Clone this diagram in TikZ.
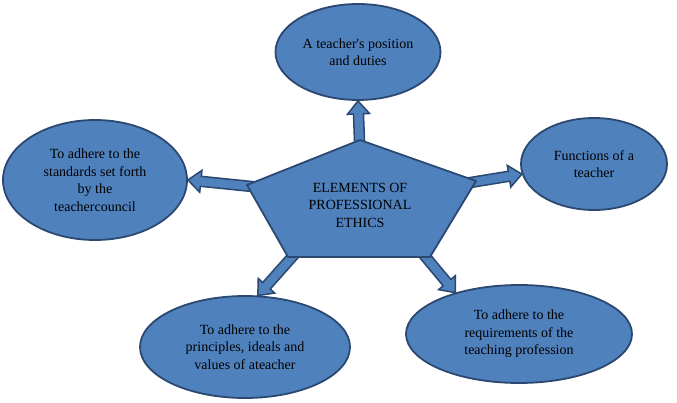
\documentclass[tikz,border=0pt]{standalone}
\usepackage{fontspec}
\setmainfont{Liberation Serif}
\usetikzlibrary{shapes.geometric,calc}
\definecolor{boxblue}{HTML}{4F81BD}
\definecolor{boxline}{HTML}{2A4870}
\tikzset{
  elembox/.style={ellipse, draw=boxline, fill=boxblue, line width=1.8pt,
    inner sep=0pt, align=center, font=\fontsize{14}{17.5}\selectfont},
  shapebox/.style={draw=boxline, fill=boxblue, line width=1.8pt, line join=round},
  arrowbox/.style={draw=boxline, fill=boxblue, line width=1.5pt, line join=miter}
}
% block arrow from #1 to #2
\newcommand{\blockarrow}[2]{%
  \coordinate (ah) at ($(#2)!13pt!(#1)$);
  \draw[arrowbox] ($(#1)!5pt!90:(#2)$) -- ($(ah)!5pt!90:(#2)$)
    -- ($(ah)!11pt!90:(#2)$) -- (#2) -- ($(ah)!11pt!-90:(#2)$)
    -- ($(ah)!5pt!-90:(#2)$) -- ($(#1)!5pt!-90:(#2)$) -- cycle;}

\begin{document}
\begin{tikzpicture}[x=1pt,y=-1pt]
\useasboundingbox (0,0) rectangle (677,403);

\node[elembox, minimum width=165pt, minimum height=96pt] (duties) at (358,52)
  {A teacher\textquotesingle s position\\and duties};
\node[elembox, minimum width=184pt, minimum height=120pt] (council) at (95,180)
  {To adhere to the\\standards set forth\\by the\\teachercouncil};
\node[elembox, minimum width=146pt, minimum height=92pt] (func) at (594,164)
  {Functions of a\\teacher};
\node[elembox, minimum width=210pt, minimum height=102pt] (ideals) at (245,347)
  {To adhere to the\\principles, ideals and\\values of ateacher};
\node[elembox, minimum width=226pt, minimum height=98pt] (prof) at (519,334)
  {To adhere to the\\requirements of the\\teaching profession};

% pentagon corners
\coordinate (ptop) at (360,140);
\coordinate (pright) at (476,181);
\coordinate (pbr) at (430,257);
\coordinate (pbl) at (288,257);
\coordinate (pleft) at (247,185);
\coordinate (pc) at (360,205);

\blockarrow{$(ptop)!14pt!(pc)$}{duties.south}
\blockarrow{$(pleft)!14pt!(pc)$}{council.east}
\blockarrow{$(pright)!14pt!(pc)$}{func.188}
\blockarrow{$(pbl)!14pt!(pc)$}{ideals.76}
\blockarrow{$(pbr)!14pt!(pc)$}{prof.147}

\draw[shapebox] (ptop) -- (pright) -- (pbr) -- (pbl) -- (pleft) -- cycle;
\node[align=center, font=\fontsize{14}{17.5}\selectfont] (ethics) at (pc)
  {ELEMENTS OF\\PROFESSIONAL\\ETHICS};
\end{tikzpicture}
\end{document}
